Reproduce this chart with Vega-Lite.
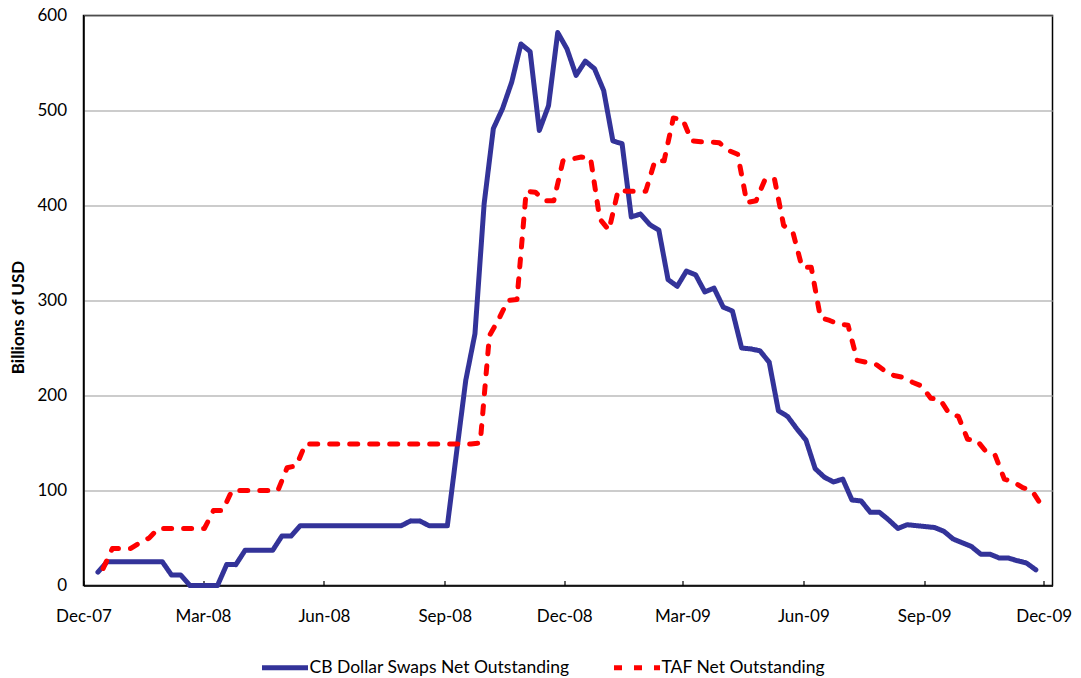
{
"$schema": "https://vega.github.io/schema/vega-lite/v6.json",
"width": 969, "height": 570,
"autosize": {"type": "none"},
"padding": {"left": 83.5, "top": 15.5, "right": 28.5, "bottom": 92.5},
"background": "white",
"config": {
  "font": "Lato",
  "view": {"stroke": "#000", "strokeWidth": 1.5},
  "legend": {"orient": "none", "legendX": 176, "legendY": 626.5, "direction": "horizontal", "symbolType": "stroke", "symbolSize": 2116, "symbolStrokeWidth": 5, "labelFont": "Lato", "labelFontSize": 17.5, "labelColor": "#000", "labelOffset": -1, "columnPadding": 34, "padding": 0, "labelLimit": 400}
},
"data": {"values": [
{"date":"2007-12-12","series":"CB Dollar Swaps Net Outstanding","value":14},
{"date":"2007-12-19","series":"CB Dollar Swaps Net Outstanding","value":25},
{"date":"2007-12-26","series":"CB Dollar Swaps Net Outstanding","value":25},
{"date":"2008-01-02","series":"CB Dollar Swaps Net Outstanding","value":25},
{"date":"2008-01-09","series":"CB Dollar Swaps Net Outstanding","value":25},
{"date":"2008-01-16","series":"CB Dollar Swaps Net Outstanding","value":25},
{"date":"2008-01-23","series":"CB Dollar Swaps Net Outstanding","value":25},
{"date":"2008-01-30","series":"CB Dollar Swaps Net Outstanding","value":25},
{"date":"2008-02-06","series":"CB Dollar Swaps Net Outstanding","value":11},
{"date":"2008-02-13","series":"CB Dollar Swaps Net Outstanding","value":11},
{"date":"2008-02-20","series":"CB Dollar Swaps Net Outstanding","value":0},
{"date":"2008-02-27","series":"CB Dollar Swaps Net Outstanding","value":0},
{"date":"2008-03-05","series":"CB Dollar Swaps Net Outstanding","value":0},
{"date":"2008-03-12","series":"CB Dollar Swaps Net Outstanding","value":0},
{"date":"2008-03-19","series":"CB Dollar Swaps Net Outstanding","value":22},
{"date":"2008-03-26","series":"CB Dollar Swaps Net Outstanding","value":22},
{"date":"2008-04-02","series":"CB Dollar Swaps Net Outstanding","value":37},
{"date":"2008-04-09","series":"CB Dollar Swaps Net Outstanding","value":37},
{"date":"2008-04-16","series":"CB Dollar Swaps Net Outstanding","value":37},
{"date":"2008-04-23","series":"CB Dollar Swaps Net Outstanding","value":37},
{"date":"2008-04-30","series":"CB Dollar Swaps Net Outstanding","value":52},
{"date":"2008-05-07","series":"CB Dollar Swaps Net Outstanding","value":52},
{"date":"2008-05-14","series":"CB Dollar Swaps Net Outstanding","value":63},
{"date":"2008-05-21","series":"CB Dollar Swaps Net Outstanding","value":63},
{"date":"2008-05-28","series":"CB Dollar Swaps Net Outstanding","value":63},
{"date":"2008-06-04","series":"CB Dollar Swaps Net Outstanding","value":63},
{"date":"2008-06-11","series":"CB Dollar Swaps Net Outstanding","value":63},
{"date":"2008-06-18","series":"CB Dollar Swaps Net Outstanding","value":63},
{"date":"2008-06-25","series":"CB Dollar Swaps Net Outstanding","value":63},
{"date":"2008-07-02","series":"CB Dollar Swaps Net Outstanding","value":63},
{"date":"2008-07-09","series":"CB Dollar Swaps Net Outstanding","value":63},
{"date":"2008-07-16","series":"CB Dollar Swaps Net Outstanding","value":63},
{"date":"2008-07-23","series":"CB Dollar Swaps Net Outstanding","value":63},
{"date":"2008-07-30","series":"CB Dollar Swaps Net Outstanding","value":63},
{"date":"2008-08-06","series":"CB Dollar Swaps Net Outstanding","value":68},
{"date":"2008-08-13","series":"CB Dollar Swaps Net Outstanding","value":68},
{"date":"2008-08-20","series":"CB Dollar Swaps Net Outstanding","value":63},
{"date":"2008-08-27","series":"CB Dollar Swaps Net Outstanding","value":63},
{"date":"2008-09-03","series":"CB Dollar Swaps Net Outstanding","value":63},
{"date":"2008-09-10","series":"CB Dollar Swaps Net Outstanding","value":140},
{"date":"2008-09-17","series":"CB Dollar Swaps Net Outstanding","value":216},
{"date":"2008-09-24","series":"CB Dollar Swaps Net Outstanding","value":265},
{"date":"2008-10-01","series":"CB Dollar Swaps Net Outstanding","value":402},
{"date":"2008-10-08","series":"CB Dollar Swaps Net Outstanding","value":481},
{"date":"2008-10-15","series":"CB Dollar Swaps Net Outstanding","value":502},
{"date":"2008-10-22","series":"CB Dollar Swaps Net Outstanding","value":530},
{"date":"2008-10-29","series":"CB Dollar Swaps Net Outstanding","value":570},
{"date":"2008-11-05","series":"CB Dollar Swaps Net Outstanding","value":562},
{"date":"2008-11-12","series":"CB Dollar Swaps Net Outstanding","value":479},
{"date":"2008-11-19","series":"CB Dollar Swaps Net Outstanding","value":505},
{"date":"2008-11-26","series":"CB Dollar Swaps Net Outstanding","value":582},
{"date":"2008-12-03","series":"CB Dollar Swaps Net Outstanding","value":565},
{"date":"2008-12-10","series":"CB Dollar Swaps Net Outstanding","value":537},
{"date":"2008-12-17","series":"CB Dollar Swaps Net Outstanding","value":552},
{"date":"2008-12-24","series":"CB Dollar Swaps Net Outstanding","value":544},
{"date":"2008-12-31","series":"CB Dollar Swaps Net Outstanding","value":521},
{"date":"2009-01-07","series":"CB Dollar Swaps Net Outstanding","value":468},
{"date":"2009-01-14","series":"CB Dollar Swaps Net Outstanding","value":465},
{"date":"2009-01-21","series":"CB Dollar Swaps Net Outstanding","value":388},
{"date":"2009-01-28","series":"CB Dollar Swaps Net Outstanding","value":391},
{"date":"2009-02-04","series":"CB Dollar Swaps Net Outstanding","value":380},
{"date":"2009-02-11","series":"CB Dollar Swaps Net Outstanding","value":374},
{"date":"2009-02-18","series":"CB Dollar Swaps Net Outstanding","value":322},
{"date":"2009-02-25","series":"CB Dollar Swaps Net Outstanding","value":315},
{"date":"2009-03-04","series":"CB Dollar Swaps Net Outstanding","value":331},
{"date":"2009-03-11","series":"CB Dollar Swaps Net Outstanding","value":327},
{"date":"2009-03-18","series":"CB Dollar Swaps Net Outstanding","value":309},
{"date":"2009-03-25","series":"CB Dollar Swaps Net Outstanding","value":313},
{"date":"2009-04-01","series":"CB Dollar Swaps Net Outstanding","value":293},
{"date":"2009-04-08","series":"CB Dollar Swaps Net Outstanding","value":289},
{"date":"2009-04-15","series":"CB Dollar Swaps Net Outstanding","value":250},
{"date":"2009-04-22","series":"CB Dollar Swaps Net Outstanding","value":249},
{"date":"2009-04-29","series":"CB Dollar Swaps Net Outstanding","value":247},
{"date":"2009-05-06","series":"CB Dollar Swaps Net Outstanding","value":235},
{"date":"2009-05-13","series":"CB Dollar Swaps Net Outstanding","value":184},
{"date":"2009-05-20","series":"CB Dollar Swaps Net Outstanding","value":178},
{"date":"2009-05-27","series":"CB Dollar Swaps Net Outstanding","value":165},
{"date":"2009-06-03","series":"CB Dollar Swaps Net Outstanding","value":153},
{"date":"2009-06-10","series":"CB Dollar Swaps Net Outstanding","value":123},
{"date":"2009-06-17","series":"CB Dollar Swaps Net Outstanding","value":114},
{"date":"2009-06-24","series":"CB Dollar Swaps Net Outstanding","value":109},
{"date":"2009-07-01","series":"CB Dollar Swaps Net Outstanding","value":112},
{"date":"2009-07-08","series":"CB Dollar Swaps Net Outstanding","value":90},
{"date":"2009-07-15","series":"CB Dollar Swaps Net Outstanding","value":89},
{"date":"2009-07-22","series":"CB Dollar Swaps Net Outstanding","value":77},
{"date":"2009-07-29","series":"CB Dollar Swaps Net Outstanding","value":77},
{"date":"2009-08-05","series":"CB Dollar Swaps Net Outstanding","value":69},
{"date":"2009-08-12","series":"CB Dollar Swaps Net Outstanding","value":60},
{"date":"2009-08-19","series":"CB Dollar Swaps Net Outstanding","value":64},
{"date":"2009-08-26","series":"CB Dollar Swaps Net Outstanding","value":63},
{"date":"2009-09-02","series":"CB Dollar Swaps Net Outstanding","value":62},
{"date":"2009-09-09","series":"CB Dollar Swaps Net Outstanding","value":61},
{"date":"2009-09-16","series":"CB Dollar Swaps Net Outstanding","value":57},
{"date":"2009-09-23","series":"CB Dollar Swaps Net Outstanding","value":49},
{"date":"2009-09-30","series":"CB Dollar Swaps Net Outstanding","value":45},
{"date":"2009-10-07","series":"CB Dollar Swaps Net Outstanding","value":41},
{"date":"2009-10-14","series":"CB Dollar Swaps Net Outstanding","value":33},
{"date":"2009-10-21","series":"CB Dollar Swaps Net Outstanding","value":33},
{"date":"2009-10-28","series":"CB Dollar Swaps Net Outstanding","value":29},
{"date":"2009-11-04","series":"CB Dollar Swaps Net Outstanding","value":29},
{"date":"2009-11-11","series":"CB Dollar Swaps Net Outstanding","value":26},
{"date":"2009-11-18","series":"CB Dollar Swaps Net Outstanding","value":23.5},
{"date":"2009-11-25","series":"CB Dollar Swaps Net Outstanding","value":16.5},
{"date":"2007-12-16","series":"TAF Net Outstanding","value":18},
{"date":"2007-12-23","series":"TAF Net Outstanding","value":39},
{"date":"2007-12-30","series":"TAF Net Outstanding","value":39},
{"date":"2008-01-06","series":"TAF Net Outstanding","value":39},
{"date":"2008-01-13","series":"TAF Net Outstanding","value":45},
{"date":"2008-01-20","series":"TAF Net Outstanding","value":50},
{"date":"2008-01-27","series":"TAF Net Outstanding","value":60},
{"date":"2008-02-03","series":"TAF Net Outstanding","value":60},
{"date":"2008-02-10","series":"TAF Net Outstanding","value":60},
{"date":"2008-02-17","series":"TAF Net Outstanding","value":60},
{"date":"2008-02-24","series":"TAF Net Outstanding","value":60},
{"date":"2008-03-02","series":"TAF Net Outstanding","value":60},
{"date":"2008-03-09","series":"TAF Net Outstanding","value":79},
{"date":"2008-03-16","series":"TAF Net Outstanding","value":79},
{"date":"2008-03-23","series":"TAF Net Outstanding","value":100},
{"date":"2008-03-30","series":"TAF Net Outstanding","value":100},
{"date":"2008-04-06","series":"TAF Net Outstanding","value":100},
{"date":"2008-04-13","series":"TAF Net Outstanding","value":100},
{"date":"2008-04-20","series":"TAF Net Outstanding","value":100},
{"date":"2008-04-27","series":"TAF Net Outstanding","value":100},
{"date":"2008-05-04","series":"TAF Net Outstanding","value":124},
{"date":"2008-05-11","series":"TAF Net Outstanding","value":126},
{"date":"2008-05-18","series":"TAF Net Outstanding","value":149},
{"date":"2008-05-25","series":"TAF Net Outstanding","value":149},
{"date":"2008-06-01","series":"TAF Net Outstanding","value":149},
{"date":"2008-06-08","series":"TAF Net Outstanding","value":149},
{"date":"2008-06-15","series":"TAF Net Outstanding","value":149},
{"date":"2008-06-22","series":"TAF Net Outstanding","value":149},
{"date":"2008-06-29","series":"TAF Net Outstanding","value":149},
{"date":"2008-07-06","series":"TAF Net Outstanding","value":149},
{"date":"2008-07-13","series":"TAF Net Outstanding","value":149},
{"date":"2008-07-20","series":"TAF Net Outstanding","value":149},
{"date":"2008-07-27","series":"TAF Net Outstanding","value":149},
{"date":"2008-08-03","series":"TAF Net Outstanding","value":149},
{"date":"2008-08-10","series":"TAF Net Outstanding","value":149},
{"date":"2008-08-17","series":"TAF Net Outstanding","value":149},
{"date":"2008-08-24","series":"TAF Net Outstanding","value":149},
{"date":"2008-08-31","series":"TAF Net Outstanding","value":149},
{"date":"2008-09-07","series":"TAF Net Outstanding","value":149},
{"date":"2008-09-14","series":"TAF Net Outstanding","value":149},
{"date":"2008-09-21","series":"TAF Net Outstanding","value":149},
{"date":"2008-09-28","series":"TAF Net Outstanding","value":150},
{"date":"2008-10-05","series":"TAF Net Outstanding","value":263},
{"date":"2008-10-12","series":"TAF Net Outstanding","value":280},
{"date":"2008-10-19","series":"TAF Net Outstanding","value":300},
{"date":"2008-10-26","series":"TAF Net Outstanding","value":301},
{"date":"2008-11-02","series":"TAF Net Outstanding","value":415},
{"date":"2008-11-09","series":"TAF Net Outstanding","value":414},
{"date":"2008-11-16","series":"TAF Net Outstanding","value":405},
{"date":"2008-11-23","series":"TAF Net Outstanding","value":405},
{"date":"2008-11-30","series":"TAF Net Outstanding","value":447},
{"date":"2008-12-07","series":"TAF Net Outstanding","value":449},
{"date":"2008-12-14","series":"TAF Net Outstanding","value":451},
{"date":"2008-12-21","series":"TAF Net Outstanding","value":450},
{"date":"2008-12-28","series":"TAF Net Outstanding","value":386},
{"date":"2009-01-04","series":"TAF Net Outstanding","value":374},
{"date":"2009-01-11","series":"TAF Net Outstanding","value":416},
{"date":"2009-01-18","series":"TAF Net Outstanding","value":415},
{"date":"2009-01-25","series":"TAF Net Outstanding","value":415},
{"date":"2009-02-01","series":"TAF Net Outstanding","value":415},
{"date":"2009-02-08","series":"TAF Net Outstanding","value":447},
{"date":"2009-02-15","series":"TAF Net Outstanding","value":447},
{"date":"2009-02-22","series":"TAF Net Outstanding","value":492},
{"date":"2009-03-01","series":"TAF Net Outstanding","value":491},
{"date":"2009-03-08","series":"TAF Net Outstanding","value":468},
{"date":"2009-03-15","series":"TAF Net Outstanding","value":467},
{"date":"2009-03-22","series":"TAF Net Outstanding","value":467},
{"date":"2009-03-29","series":"TAF Net Outstanding","value":466},
{"date":"2009-04-05","series":"TAF Net Outstanding","value":458},
{"date":"2009-04-12","series":"TAF Net Outstanding","value":454},
{"date":"2009-04-19","series":"TAF Net Outstanding","value":403},
{"date":"2009-04-26","series":"TAF Net Outstanding","value":405},
{"date":"2009-05-03","series":"TAF Net Outstanding","value":428},
{"date":"2009-05-10","series":"TAF Net Outstanding","value":428},
{"date":"2009-05-17","series":"TAF Net Outstanding","value":379},
{"date":"2009-05-24","series":"TAF Net Outstanding","value":372},
{"date":"2009-05-31","series":"TAF Net Outstanding","value":335},
{"date":"2009-06-07","series":"TAF Net Outstanding","value":335},
{"date":"2009-06-14","series":"TAF Net Outstanding","value":282},
{"date":"2009-06-21","series":"TAF Net Outstanding","value":279},
{"date":"2009-06-28","series":"TAF Net Outstanding","value":275},
{"date":"2009-07-05","series":"TAF Net Outstanding","value":274},
{"date":"2009-07-12","series":"TAF Net Outstanding","value":237},
{"date":"2009-07-19","series":"TAF Net Outstanding","value":235},
{"date":"2009-07-26","series":"TAF Net Outstanding","value":233},
{"date":"2009-08-02","series":"TAF Net Outstanding","value":226},
{"date":"2009-08-09","series":"TAF Net Outstanding","value":221},
{"date":"2009-08-16","series":"TAF Net Outstanding","value":219},
{"date":"2009-08-23","series":"TAF Net Outstanding","value":214},
{"date":"2009-08-30","series":"TAF Net Outstanding","value":210},
{"date":"2009-09-06","series":"TAF Net Outstanding","value":197},
{"date":"2009-09-13","series":"TAF Net Outstanding","value":196},
{"date":"2009-09-20","series":"TAF Net Outstanding","value":181},
{"date":"2009-09-27","series":"TAF Net Outstanding","value":178},
{"date":"2009-10-04","series":"TAF Net Outstanding","value":154},
{"date":"2009-10-11","series":"TAF Net Outstanding","value":153},
{"date":"2009-10-18","series":"TAF Net Outstanding","value":141},
{"date":"2009-10-25","series":"TAF Net Outstanding","value":137},
{"date":"2009-11-01","series":"TAF Net Outstanding","value":112},
{"date":"2009-11-08","series":"TAF Net Outstanding","value":109},
{"date":"2009-11-15","series":"TAF Net Outstanding","value":103},
{"date":"2009-11-22","series":"TAF Net Outstanding","value":100},
{"date":"2009-11-29","series":"TAF Net Outstanding","value":85}
]},
"mark": {"type": "line", "strokeWidth": 5, "strokeCap": "round", "strokeJoin": "round"},
"encoding": {
  "x": {"field": "date", "type": "temporal",
    "scale": {"type": "utc", "domain": [{"year": 2007, "month": 12, "date": 1, "utc": true}, {"year": 2009, "month": 12, "date": 7, "hours": 16, "utc": true}]},
    "axis": {"title": null, "format": "%b-%y", "grid": false,
      "values": [{"year": 2007, "month": 12, "date": 1, "utc": true}, {"year": 2008, "month": 3, "date": 1, "utc": true}, {"year": 2008, "month": 6, "date": 1, "utc": true}, {"year": 2008, "month": 9, "date": 1, "utc": true}, {"year": 2008, "month": 12, "date": 1, "utc": true}, {"year": 2009, "month": 3, "date": 1, "utc": true}, {"year": 2009, "month": 6, "date": 1, "utc": true}, {"year": 2009, "month": 9, "date": 1, "utc": true}, {"year": 2009, "month": 12, "date": 1, "utc": true}],
      "labelFont": "Lato", "labelFontSize": 17, "labelColor": "#000", "labelFlush": false, "labelOverlap": false,
      "domainColor": "#000", "domainWidth": 1.5, "ticks": true, "tickSize": -5, "tickColor": "#000", "tickWidth": 1.2, "labelPadding": 28}},
  "y": {"field": "value", "type": "quantitative",
    "scale": {"domain": [0, 600], "nice": false},
    "axis": {"values": [0, 100, 200, 300, 400, 500, 600], "grid": true, "gridColor": "#999999", "gridWidth": 1.2, "ticks": false,
      "domainColor": "#000", "domainWidth": 1.5, "labelFont": "Lato", "labelFontSize": 17, "labelColor": "#000", "labelPadding": 17,
      "title": "Billions of USD", "titleFont": "Lato", "titleFontSize": 17, "titleFontWeight": "bold", "titleColor": "#000",
      "titleX": -65.5, "titleY": 301.5, "titleBaseline": "middle", "titleAlign": "center", "titleAngle": 270}},
  "color": {"field": "series", "type": "nominal",
    "scale": {"domain": ["CB Dollar Swaps Net Outstanding", "TAF Net Outstanding"], "range": ["#333399", "#FF0000"]},
    "legend": {"title": null}},
  "strokeDash": {"field": "series", "type": "nominal",
    "scale": {"domain": ["CB Dollar Swaps Net Outstanding", "TAF Net Outstanding"], "range": [[1, 0], [8, 12]]},
    "legend": {"title": null}}
}
}
